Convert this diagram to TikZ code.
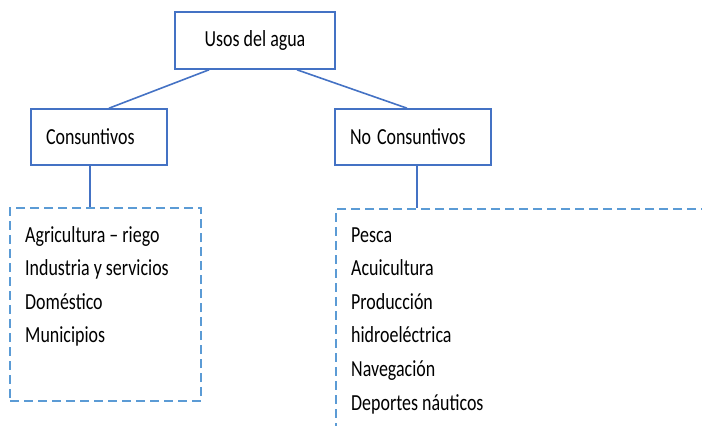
\documentclass[tikz,border=0pt]{standalone}
\usepackage{fontspec}
\setmainfont{Carlito}

\definecolor{azul}{RGB}{68,114,196}
\definecolor{azulclaro}{RGB}{91,155,213}

% texto algo estrecho, como en el original
\newcommand{\estrecho}[1]{\scalebox{0.78}[1]{#1}}

\begin{document}
\begin{tikzpicture}[x=1pt, y=-1pt,
    caja/.style={
        draw=azul,
        line width=1.6pt,
        minimum height=57pt,
        inner xsep=15pt,
        font=\fontsize{23}{27}\selectfont
    },
    grupo/.style={
        draw=azulclaro,
        line width=2.2pt,
        dash pattern=on 9pt off 5pt,
        inner sep=0pt
    },
    item/.style={
        anchor=base west,
        inner sep=0pt,
        font=\fontsize{23}{27}\selectfont
    },
    enlace/.style={
        draw=azul,
        line width=1.6pt
    }
]

%------------------------------------------------
% Marco
%------------------------------------------------
\clip (0,0) rectangle (702,426);

%------------------------------------------------
% Cajas
%------------------------------------------------
\node[caja, minimum width=160pt] (usos) at (255,40.5) {\estrecho{Usos del agua}};

\node[caja, minimum width=136pt, minimum height=56pt,
      text width=106pt, align=left] (cons) at (99,137) {\estrecho{Consuntivos}};
\node[caja, minimum width=156pt, minimum height=56pt,
      text width=126pt, align=left] (nocons) at (413,137) {\estrecho{No Consuntivos}};

% grupos punteados
\node[grupo, minimum width=191pt, minimum height=193pt] (listacons) at (105.5,304.5) {};
\node[grupo, minimum width=400pt, minimum height=260pt,
      anchor=north west] (listanocons) at (335,208) {};

%------------------------------------------------
% Enlaces
%------------------------------------------------
\draw[enlace] ([xshift=-46pt]usos.south) -- ([xshift=10pt]cons.north);
\draw[enlace] ([xshift=42pt]usos.south) -- ([xshift=-6pt]nocons.north);

\draw[enlace] ([xshift=-9pt]cons.south) -- ([xshift=-9pt]cons.south |- listacons.north);
\draw[enlace] ([xshift=4pt]nocons.south) -- ([xshift=4pt]nocons.south |- listanocons.north);

%------------------------------------------------
% Listas
%------------------------------------------------
\foreach \txt [count=\i] in {Agricultura – riego, Industria y servicios,
                             Doméstico, Municipios} {
    \node[item] (cons-\i) at (25,208.5+33.5*\i) {\estrecho{\txt}};
}

\foreach \txt [count=\i] in {Pesca, Acuicultura, Producción, hidroeléctrica,
                             Navegación, Deportes náuticos} {
    \node[item] (nocons-\i) at (351,208.5+33.6*\i) {\estrecho{\txt}};
}

\end{tikzpicture}
\end{document}
